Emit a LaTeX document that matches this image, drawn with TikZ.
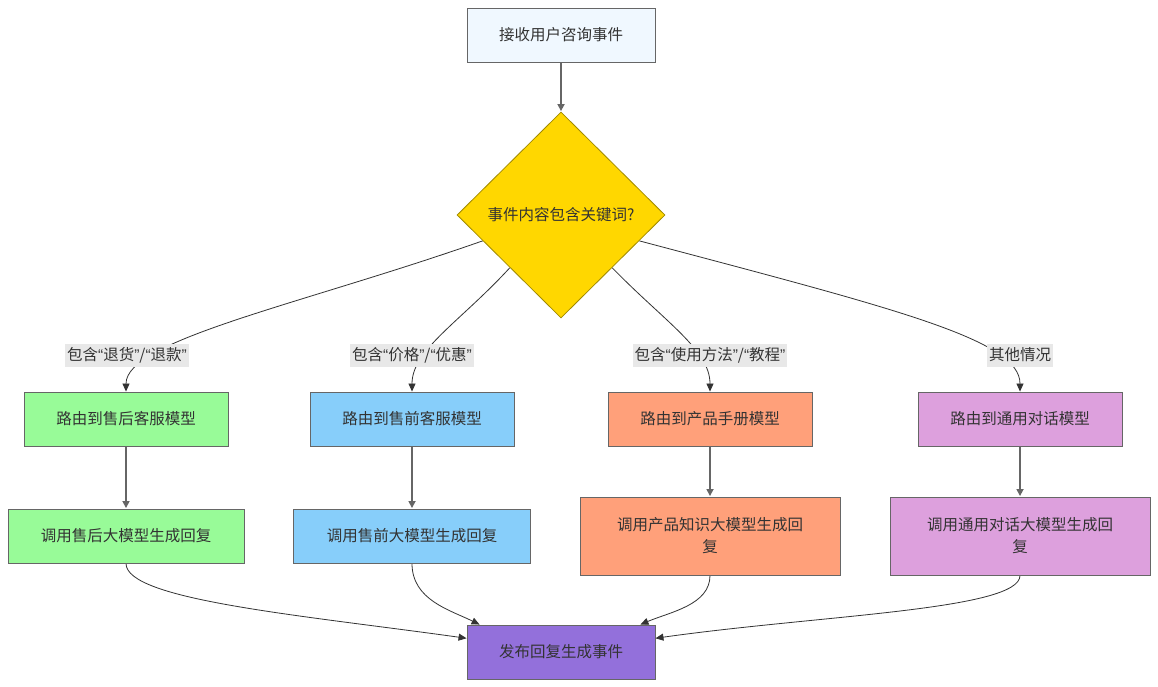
\documentclass[tikz,border=0pt]{standalone}
\usepackage{fontspec}
\setmainfont{Noto Sans CJK SC}
\newfontfamily\latf{Liberation Sans}
\usetikzlibrary{shapes.geometric,arrows.meta,calc,backgrounds}
\definecolor{txt}{HTML}{333333}
\definecolor{topc}{HTML}{F0F8FF}
\definecolor{gold}{HTML}{FFD700}
\definecolor{goldb}{HTML}{A08A00}
\definecolor{grn}{HTML}{98FB98}
\definecolor{blu}{HTML}{87CEFA}
\definecolor{sal}{HTML}{FFA07A}
\definecolor{plm}{HTML}{DDA0DD}
\definecolor{pur}{HTML}{9370DB}
\definecolor{bord}{HTML}{666666}
\definecolor{lab}{HTML}{E8E8E8}
\newcommand{\oq}{{\latf “}}
\newcommand{\cq}{{\latf ”}}
\begin{document}
\begin{tikzpicture}[x=1pt,y=-1pt,
  every node/.style={font=\fontsize{15.5}{22}\selectfont, text=txt},
  box/.style={draw=bord, line width=0.9pt, rectangle, inner sep=0pt, align=center, minimum height=54pt},
  lbl/.style={fill=lab, inner sep=2pt, minimum height=23pt},
  curve/.style={draw=txt, line width=0.8pt},
  arr/.style={-{Triangle[length=8pt,width=7pt]}},
  varr/.style={draw=bord, line width=1.6pt, -{Triangle[length=7pt,width=7pt]}, shorten >=0.5pt}
]
\useasboundingbox (0,0) rectangle (1158,687);

\node[box, fill=topc, minimum width=188pt] (top) at (561,35) {接收用户咨询事件};
\node[diamond, draw=goldb, line width=0.8pt, fill=gold, minimum width=208pt, minimum height=206pt, inner sep=0pt] (dia) at (561,215) {事件内容包含关键词?};

\node[box, fill=grn, minimum width=204pt] (b1) at (126,419) {路由到售后客服模型};
\node[box, fill=blu, minimum width=204pt] (b2) at (412,419) {路由到售前客服模型};
\node[box, fill=sal, minimum width=204pt] (b3) at (710,419) {路由到产品手册模型};
\node[box, fill=plm, minimum width=204pt] (b4) at (1020,419) {路由到通用对话模型};

\node[box, fill=grn, minimum width=236pt] (c1) at (126,536) {调用售后大模型生成回复};
\node[box, fill=blu, minimum width=237pt] (c2) at (412,536) {调用售前大模型生成回复};
\node[box, fill=sal, minimum width=260pt, minimum height=78pt] (c3) at (710,536) {调用产品知识大模型生成回\\复};
\node[box, fill=plm, minimum width=260pt, minimum height=78pt] (c4) at (1020,536) {调用通用对话大模型生成回\\复};

\node[box, fill=pur, minimum width=188pt] (fin) at (561,652) {发布回复生成事件};

\node[lbl] (l1) at (127,355) {包含\oq 退货\cq/\oq 退款\cq};
\node[lbl] (l2) at (412,355) {包含\oq 价格\cq/\oq 优惠\cq};
\node[lbl] (l3) at (710,355) {包含\oq 使用方法\cq/\oq 教程\cq};
\node[lbl] (l4) at (1020,355) {其他情况};

\begin{scope}[on background layer]
\fill[white] (0,0) rectangle (1158,687);
\draw[varr] (top) -- (dia.north);
\draw[curve, arr] ($(dia.west)!0.25!(dia.south)$) .. controls (300,305) and (126,340) .. (b1.north);
\draw[curve, arr] ($(dia.west)!0.51!(dia.south)$) .. controls (460,322) and (412,350) .. (b2.north);
\draw[curve, arr] ($(dia.east)!0.51!(dia.south)$) .. controls (665,322) and (710,350) .. (b3.north);
\draw[curve, arr] ($(dia.east)!0.25!(dia.south)$) .. controls (900,310) and (1020,340) .. (b4.north);

\draw[curve, arr] (c1.south) .. controls (126,600) and (300,615) .. ($(fin.north west)!0.25!(fin.south west)$);
\draw[curve, arr] (c2.south) .. controls (412,600) and (450,610) .. ($(fin.north west)+(13,0)$);
\draw[curve, arr] (c3.south) .. controls (710,605) and (670,612) .. ($(fin.north east)+(-15,0)$);
\draw[curve, arr] (c4.south) .. controls (1020,610) and (820,615) .. ($(fin.north east)!0.25!(fin.south east)$);
\end{scope}

\draw[varr] (b1) -- (c1);
\draw[varr] (b2) -- (c2);
\draw[varr] (b3) -- (c3);
\draw[varr] (b4) -- (c4);
\end{tikzpicture}
\end{document}
